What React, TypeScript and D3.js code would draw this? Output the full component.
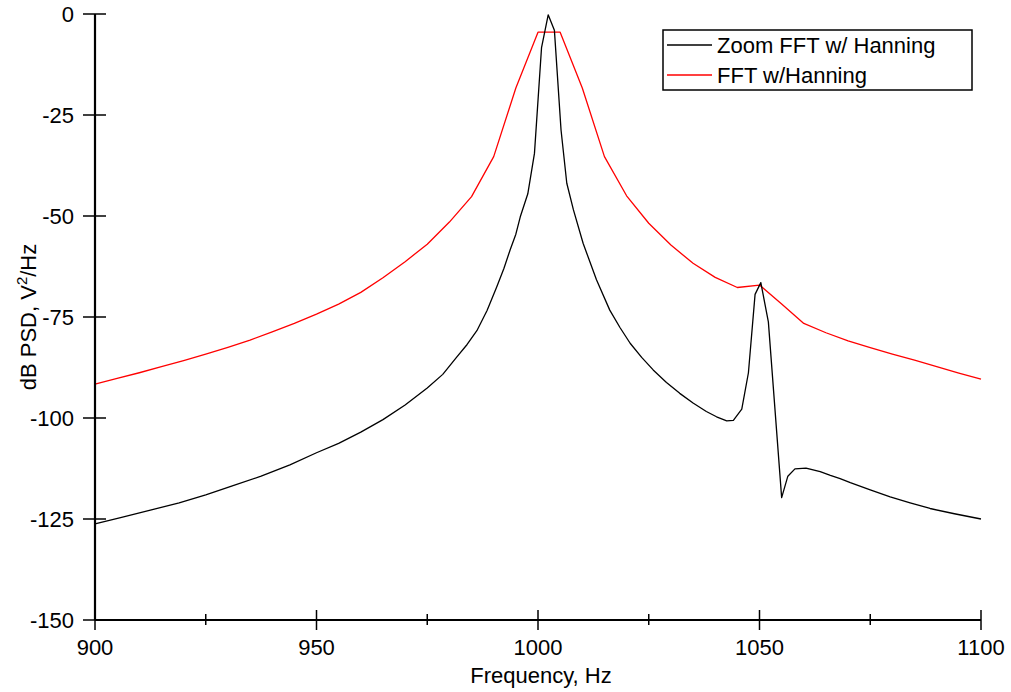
import React from "react";
import * as d3 from "d3";

const fftFreq = [900, 905, 910, 915, 920, 925, 930, 935, 940, 945, 950, 955, 960, 965, 970, 975, 980, 985, 990, 995, 1000, 1005, 1010, 1015, 1020, 1025, 1030, 1035, 1040, 1045, 1050, 1055, 1060, 1065, 1070, 1075, 1080, 1085, 1090, 1095, 1100];
const fftDb = [-91.6, -90.2, -88.8, -87.3, -85.8, -84.2, -82.5, -80.7, -78.7, -76.6, -74.3, -71.8, -68.9, -65.3, -61.3, -57.0, -51.5, -45.2, -35.3, -18.3, -4.5, -4.5, -18.3, -35.3, -45.0, -51.8, -57.2, -61.7, -65.2, -67.7, -67.1, -71.8, -76.6, -78.9, -80.9, -82.6, -84.2, -85.7, -87.3, -88.9, -90.4];

const zoomFreq = [900, 906, 912.5, 919, 925, 931, 937.5, 944, 950, 955, 960, 965, 970, 975, 978.5, 981.6, 984, 986.2, 988.5, 990.7, 992.3, 993.7, 995, 996, 997.7, 999.2, 1000.8, 1002.3, 1003.7, 1005.2, 1006.5, 1008, 1010.2, 1013.2, 1016.2, 1018.5, 1020.8, 1023.4, 1026, 1029, 1032, 1035, 1038, 1040.3, 1042.6, 1044.1, 1046, 1047.5, 1049, 1050.3, 1052, 1055, 1056.4, 1058, 1060.5, 1063.7, 1066, 1068.2, 1070.5, 1075, 1079.5, 1084, 1088.5, 1094, 1100];
const zoomDb = [-126.2, -124.6, -122.8, -121.0, -119.0, -116.8, -114.4, -111.6, -108.6, -106.3, -103.5, -100.4, -96.8, -92.6, -89.2, -85.0, -81.8, -78.4, -73.4, -67.5, -63.0, -58.4, -54.5, -50.2, -44.5, -34.5, -8.3, -0.2, -4.0, -28.7, -41.9, -48.5, -56.8, -65.8, -73.3, -77.6, -81.5, -85.0, -88.1, -91.2, -93.9, -96.3, -98.4, -99.7, -100.7, -100.6, -97.8, -88.8, -69.4, -66.5, -76.2, -119.7, -114.4, -112.6, -112.4, -113.3, -114.2, -115.0, -116.0, -117.8, -119.5, -121.0, -122.4, -123.7, -125.0];

const xMajor = [900, 950, 1000, 1050, 1100];
const xMinor = [925, 975, 1025, 1075];
const yTicks = [0, -25, -50, -75, -100, -125, -150];

const seriesNames = ["Zoom FFT w/ Hanning", "FFT w/Hanning"];
const seriesColors = ["#000000", "#ff0000"];

export default function App() {
  const W = 1011, H = 692;
  const x = d3.scaleLinear().domain([900, 1100]).range([95, 981]);
  const y = d3.scaleLinear().domain([-150, 0]).range([620, 14]);
  const line = d3.line<[number, number]>().x((d) => x(d[0])).y((d) => y(d[1]));
  const zoomPts: [number, number][] = zoomFreq.map((f, i) => [f, zoomDb[i]]);
  const fftPts: [number, number][] = fftFreq.map((f, i) => [f, fftDb[i]]);
  const font = "'Liberation Sans', Arial, sans-serif";
  const x0 = x(900), yb = y(-150);
  return (
    <svg width={W} height={H} style={{ position: "absolute", left: 0, top: 0, background: "#fff" }} fontFamily={font}>
      <rect x={0} y={0} width={W} height={H} fill="#fff" />
      <path d={line(fftPts) || ""} fill="none" stroke={seriesColors[1]} strokeWidth={1.3} strokeLinejoin="round" />
      <path d={line(zoomPts) || ""} fill="none" stroke={seriesColors[0]} strokeWidth={1.3} strokeLinejoin="round" />
      <line x1={x0} x2={x0} y1={y(0)} y2={yb} stroke="#000" strokeWidth={2.2} />
      <line x1={x0} x2={x(1100)} y1={yb} y2={yb} stroke="#000" strokeWidth={2.2} />
      {yTicks.map((t) => (
        <g key={"y" + t}>
          <line x1={x0 - 12} x2={x0 + 11} y1={y(t)} y2={y(t)} stroke="#000" strokeWidth={1.5} />
          <text x={74} y={y(t)} textAnchor="end" dominantBaseline="central" fontSize={22} fill="#000">{t}</text>
        </g>
      ))}
      {xMajor.map((t) => (
        <g key={"x" + t}>
          <line x1={x(t)} x2={x(t)} y1={yb - 10} y2={yb + 10} stroke="#000" strokeWidth={1.5} />
          <text x={x(t)} y={655} textAnchor="middle" fontSize={22} fill="#000">{t}</text>
        </g>
      ))}
      {xMinor.map((t) => (
        <line key={"m" + t} x1={x(t)} x2={x(t)} y1={yb - 6} y2={yb + 5} stroke="#000" strokeWidth={1.5} />
      ))}
      <text x={541} y={683} textAnchor="middle" fontSize={22} fill="#000">Frequency, Hz</text>
      <text transform={`translate(36,${y(-75)}) rotate(-90)`} textAnchor="middle" fontSize={22} fill="#000">
        dB PSD, V<tspan dy={-9} fontSize={15}>2</tspan><tspan dy={9}>/Hz</tspan>
      </text>
      <rect x={663} y={30} width={309} height={60} fill="#fff" stroke="#000" strokeWidth={1.5} />
      {seriesNames.map((n, i) => (
        <g key={n}>
          <line x1={667} x2={712} y1={45 + i * 30} y2={45 + i * 30} stroke={seriesColors[i]} strokeWidth={1.3} />
          <text x={717} y={45 + i * 30} dominantBaseline="central" fontSize={22} fill="#000">{n}</text>
        </g>
      ))}
    </svg>
  );
}
